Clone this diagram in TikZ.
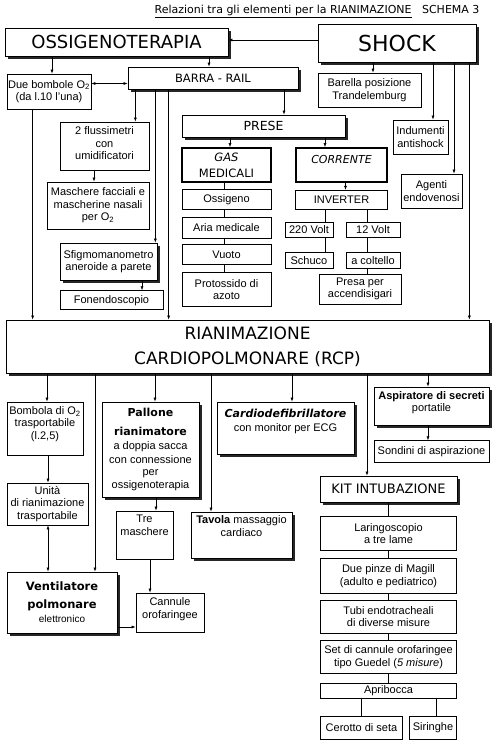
\documentclass[tikz,border=0pt]{standalone}
\usepackage{fontspec}
\setmainfont{Liberation Sans}
\newfontfamily\hd{DejaVu Sans}
\usepackage{tikz}
\usetikzlibrary{arrows.meta,positioning,shadows}
\newcommand{\vpad}[1]{\rule[-#1]{0pt}{#1}}
\newcommand{\bodyfont}{\fontsize{11}{12.5}\selectfont}

\begin{document}
\begin{tikzpicture}[x=1pt,y=1pt, every node/.style={font=\bodyfont},
  box/.style={draw,fill=white,line width=0.7pt,align=center,inner sep=1pt},
  sbox/.style={box,drop shadow={shadow xshift=3pt,shadow yshift=-3pt,fill=black!85,opacity=1}},
  tbox/.style={box,line width=1.8pt},
  kbox/.style={box,minimum width=136pt},
  arr/.style={-{Latex[length=4pt,width=3pt]},line width=0.6pt},
  dbl/.style={{Latex[length=4pt,width=3pt]}-{Latex[length=4pt,width=3pt]},line width=0.6pt},
  ln/.style={line width=0.6pt}]
\path[use as bounding box,fill=white] (0,0) rectangle (500,-742);
\node[font=\hd\fontsize{11}{13}\selectfont,anchor=east] (title) at (483,-11) {\underline{Relazioni tra gli elementi per la RIANIMAZIONE}\ \ \ SCHEMA 3};
% top row
\node[sbox,minimum width=223pt,minimum height=28pt,font=\hd\fontsize{18}{20}\selectfont] (oss) at (116.5,-42) {OSSIGENOTERAPIA};
\node[sbox,minimum width=158pt,minimum height=38pt,font=\hd\fontsize{22}{24}\selectfont] (shock) at (397,-43) {SHOCK};
\node[box,minimum width=84pt,minimum height=35pt] (bomb) at (49,-91.5) {Due bombole O\textsubscript{2}\\(da l.10 l'una)};
\node[sbox,minimum width=170pt,minimum height=22pt,font=\hd\fontsize{11.5}{13}\selectfont] (barra) at (213,-78) {BARRA - RAIL};
\node[box,minimum width=103pt,minimum height=34pt] (barella) at (369.5,-90) {Barella posizione\\Trandelemburg};
\node[box,minimum width=55pt,minimum height=34pt] (indum) at (420.5,-137) {Indumenti\\antishock};
\node[box,minimum width=61pt,minimum height=34pt] (agenti) at (431.5,-191) {Agenti\\endovenosi};
% left column
\node[box,minimum width=89pt,minimum height=48pt] (fluss) at (104.5,-146) {2 flussimetri\\con\\umidificatori\vpad{5pt}};
\node[box,minimum width=102pt,minimum height=47pt] (masch) at (98,-205.5) {Maschere facciali e\\mascherine nasali\\per O\textsubscript{2}};
\node[sbox,minimum width=97pt,minimum height=37pt] (sfigmo) at (108.5,-261.5) {Sfigmomanometro\\aneroide a parete};
\node[box,minimum width=103pt,minimum height=19pt,below=10pt of sfigmo.south west,anchor=north west] (fonendo) {Fonendoscopio};
% prese
\node[sbox,minimum width=163pt,minimum height=22pt,font=\hd\fontsize{12.5}{14}\selectfont] (prese) at (263.5,-126) {PRESE};
\node[tbox,minimum width=89pt,minimum height=34pt,font=\hd\fontsize{11.5}{16}\selectfont] (gas) at (226.5,-165) {\itshape GAS\\MEDICALI};
\node[box,minimum width=89pt,minimum height=20pt,below=6pt of gas] (ossig) {Ossigeno};
\node[box,minimum width=89pt,minimum height=21pt,below=7pt of ossig] (aria) {Aria medicale};
\node[box,minimum width=89pt,minimum height=20pt,below=6pt of aria] (vuoto) {Vuoto};
\node[box,minimum width=89pt,minimum height=34pt,below=7pt of vuoto] (protox) {Protossido di\\azoto};
\node[tbox,minimum width=91pt,minimum height=34pt,font=\hd\fontsize{11}{13}\selectfont] (corr) at (341.5,-165) {\itshape CORRENTE\vpad{12pt}};
\node[box,minimum width=92pt,minimum height=19pt,below=7pt of corr] (inv) {INVERTER};
\node[box,minimum width=48pt,minimum height=15pt] (v220) at (309,-229.5) {220 Volt};
\node[box,minimum width=48pt,minimum height=16pt,below=15pt of v220] (schuco) {Schuco};
\node[box,minimum width=54pt,minimum height=15pt] (v12) at (373,-229.5) {12 Volt};
\node[box,minimum width=54pt,minimum height=16pt,below=15pt of v12] (colt) {a coltello};
\node[box,minimum width=82pt,minimum height=30pt] (presa) at (360,-289) {Presa per\\accendisigari};
% RCP
\node[sbox,minimum width=483pt,minimum height=53pt,font=\hd\fontsize{17}{25}\selectfont] (rcp) at (247.5,-346.5) {RIANIMAZIONE\\CARDIOPOLMONARE (RCP)};
% lower part
\node[box,minimum width=76pt,minimum height=53pt] (bombo2) at (45,-428.5) {Bombola di O\textsubscript{2}\\trasportabile\\(l.2,5)\vpad{11pt}};
\node[box,minimum width=81pt,minimum height=42pt] (unita) at (47.5,-504) {Unità\\di rianimazione\\trasportabile};
\node[sbox,minimum width=110pt,minimum height=61pt] (vent) at (62,-602.5) {{\hd\bfseries\fontsize{11.5}{13}\selectfont Ventilatore}\\[5.5pt]{\hd\bfseries\fontsize{11.5}{13}\selectfont polmonare}\\[1.5pt]{\fontsize{10}{12}\selectfont elettronico}};
\node[sbox,minimum width=97pt,minimum height=95pt] (pall) at (150.5,-449.5) {{\hd\bfseries\fontsize{11}{13}\selectfont Pallone}\\[6pt]{\hd\bfseries\fontsize{11}{13}\selectfont rianimatore}\\[2pt]a doppia sacca\\[1pt]con connessione\\per\\ossigenoterapia};
\node[box,minimum width=57pt,minimum height=48pt] (tre) at (144.5,-535) {Tre\\maschere\vpad{20pt}};
\node[box,minimum width=68pt,minimum height=39pt] (cann) at (170,-612.5) {Cannule\\orofaringee\vpad{9pt}};
\node[sbox,minimum width=137pt,minimum height=52pt] (cardio) at (285.5,-428) {{\hd\bfseries\itshape\fontsize{11}{13}\selectfont Cardiodefibrillatore}\\[1.5pt]con monitor per ECG\vpad{16pt}};
\node[sbox,minimum width=101pt,minimum height=46pt] (tavola) at (241.5,-535) {\textbf{Tavola} massaggio\\cardiaco\vpad{18pt}};
\node[sbox,minimum width=115pt,minimum height=38pt] (aspir) at (431.5,-406) {\textbf{Aspiratore di secreti}\\portatile\vpad{9pt}};
\node[box,minimum width=115pt,minimum height=22pt,below=15pt of aspir] (sond) {Sondini di aspirazione};
\node[sbox,minimum width=137pt,minimum height=26pt,font=\hd\fontsize{13}{15}\selectfont] (kit) at (388.5,-489) {KIT INTUBAZIONE};
\node[kbox,minimum height=34pt,below=14pt of kit] (lar) {Laringoscopio\\a tre lame};
\node[kbox,minimum height=35pt,below=7pt of lar] (pinze) {Due pinze di Magill\\(adulto e pediatrico)};
\node[kbox,minimum height=33pt,below=6pt of pinze] (tubi) {Tubi endotracheali\\di diverse misure};
\node[kbox,minimum height=33pt,below=7pt of tubi] (set) {Set di cannule orofaringee\\tipo Guedel (\textit{5 misure})};
\node[kbox,minimum height=15pt,below=9pt of set] (aprib) {Apribocca};
\node[box,minimum width=82pt,minimum height=23pt,below=17pt of aprib.south west,anchor=north west] (cer) {Cerotto di seta};
\node[box,minimum width=47pt,minimum height=23pt,below=17pt of aprib.south east,anchor=north east] (sir) {Siringhe};
% connectors, upper part
\draw[arr] ([yshift=3pt]shock.west) -- ([yshift=3pt]shock.west -| oss.east);
\draw[arr] ([xshift=3pt]bomb.north |- oss.south) -- ([xshift=3pt]bomb.north);
\draw[arr] ([xshift=-4pt]barra.north |- oss.south) -- ([xshift=-4pt]barra.north);
\draw[dbl] ([yshift=8pt]bomb.east) -- ([yshift=8pt]bomb.east -| barra.west);
\draw[arr] ([xshift=3.5pt]barella.north |- shock.south) -- ([xshift=3.5pt]barella.north);
\draw[arr] ([xshift=12.5pt]indum.north |- shock.south) -- ([xshift=12.5pt]indum.north);
\draw[arr] ([xshift=22.5pt]agenti.north |- shock.south) -- ([xshift=22.5pt]agenti.north);
\draw[arr] ([xshift=-20pt]rcp.north east |- shock.south) -- ([xshift=-20pt]rcp.north east);
\draw[arr] ([xshift=-14pt]fluss.north east |- barra.south) -- ([xshift=-14pt]fluss.north east);
\draw[arr] ([xshift=-2pt]sfigmo.north east |- barra.south) -- ([xshift=-2pt]sfigmo.north east);
\draw[arr] ([xshift=163pt]rcp.north west |- barra.south) -- ([xshift=163pt]rcp.north west);
\draw[arr] ([xshift=20.5pt]prese.north |- barra.south) -- ([xshift=20.5pt]prese.north);
\draw[arr] ([xshift=27pt]rcp.north west |- bomb.south) -- ([xshift=27pt]rcp.north west);
\draw[arr] ([xshift=-4pt]masch.north |- fluss.south) -- ([xshift=-4pt]masch.north);
\draw[arr] ([xshift=30.5pt]fonendo.north |- sfigmo.south) -- ([xshift=30.5pt]fonendo.north);
\draw[arr] ([xshift=3.5pt]gas.north |- prese.south) -- ([xshift=3.5pt]gas.north);
\draw[arr] ([xshift=-16.5pt]corr.north |- prese.south) -- ([xshift=-16.5pt]corr.north);
\foreach \a/\b in {gas/ossig,ossig/aria,aria/vuoto,vuoto/protox} \draw[ln] ([xshift=-2.5pt]\a.south) -- ([xshift=-2.5pt]\b.north);
\draw[arr] ([xshift=4pt]inv.north |- corr.south) -- ([xshift=4pt]inv.north);
\draw[ln] ([xshift=16pt]v220.north |- inv.south) -- ([xshift=16pt]v220.north) ([xshift=16pt]v220.south) -- ([xshift=16pt]schuco.north);
\draw[ln] ([xshift=-6pt]v12.north |- inv.south) -- ([xshift=-6pt]v12.north) ([xshift=-6pt]v12.south) -- ([xshift=-6pt]colt.north) ([xshift=-6pt]colt.south) -- ([xshift=-6pt]colt.south |- presa.north);
% connectors, lower part
\draw[arr] ([xshift=2pt]bombo2.north |- rcp.south) -- ([xshift=2pt]bombo2.north);
\draw[arr] ([xshift=33pt]vent.north |- rcp.south) -- ([xshift=33pt]vent.north);
\draw[arr] ([xshift=4.5pt]pall.north |- rcp.south) -- ([xshift=4.5pt]pall.north);
\draw[arr] ([xshift=-30.5pt]tavola.north |- rcp.south) -- ([xshift=-30.5pt]tavola.north);
\draw[arr] ([xshift=6.5pt]cardio.north |- rcp.south) -- ([xshift=6.5pt]cardio.north);
\draw[arr] ([xshift=-21.5pt]kit.north |- rcp.south) -- ([xshift=-21.5pt]kit.north);
\draw[arr] ([xshift=-3.5pt]aspir.north |- rcp.south) -- ([xshift=-3.5pt]aspir.north);
\draw[arr] ([xshift=3pt]bombo2.south) -- ([xshift=3pt]bombo2.south |- unita.north);
\draw[dbl] ([xshift=0.5pt]unita.south) -- ([xshift=0.5pt]unita.south |- vent.north);
\draw[arr] ([yshift=-14.5pt]cann.west -| vent.east) -- ([yshift=-14.5pt]cann.west);
\draw[arr] ([xshift=5.5pt]pall.south) -- ([xshift=5.5pt]pall.south |- tre.north);
\draw[arr] ([xshift=5.5pt]tre.south) -- ([xshift=5.5pt]tre.south |- cann.north);
\draw[arr] ([xshift=-3.5pt]aspir.south) -- ([xshift=-3.5pt]sond.north);
\foreach \a/\b in {kit/lar,lar/pinze,pinze/tubi,tubi/set,set/aprib} \draw[ln] (\a.south -| lar.north) -- (\b.north -| lar.north);
\draw[ln] (cer.north |- aprib.south) -- (cer.north) ([xshift=3.5pt]sir.north |- aprib.south) -- ([xshift=3.5pt]sir.north);
\end{tikzpicture}
\end{document}
